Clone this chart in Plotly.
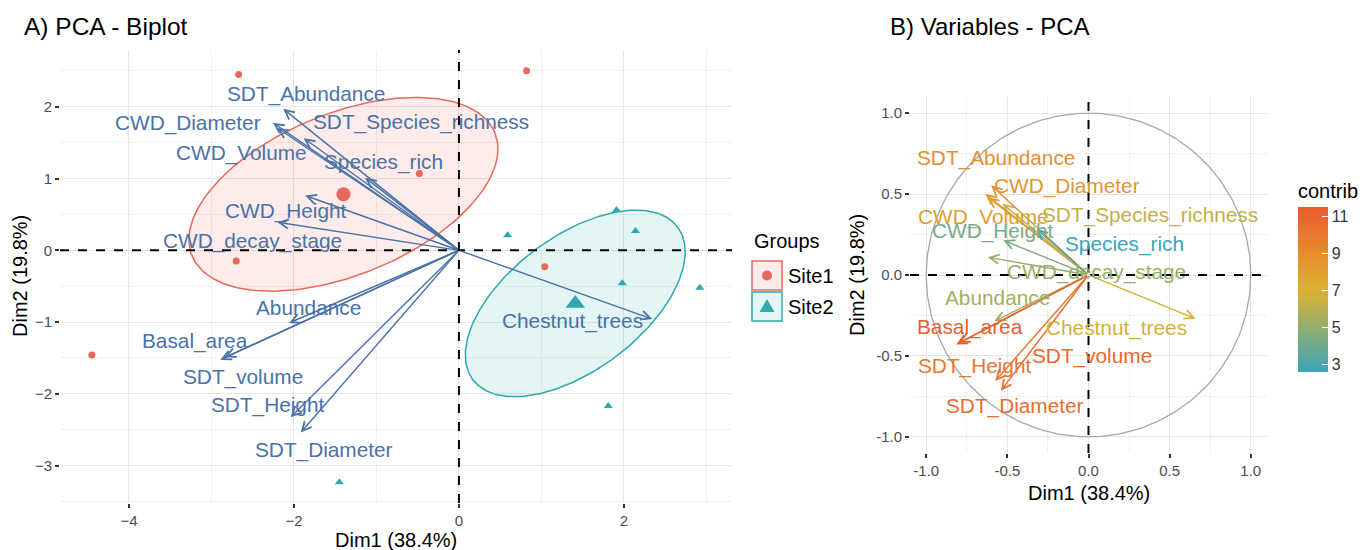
import numpy as np
import plotly.graph_objects as go
from plotly.colors import sample_colorscale

# ---------------- data ----------------
groups = ["Site1", "Site2"]
site1_x = [-2.67, 0.82, -0.48, -2.70, 1.04, -4.45]
site1_y = [2.45, 2.50, 1.07, -0.15, -0.23, -1.46]
site2_x = [0.59, 1.91, 2.14, 1.98, 2.92, 1.81, -1.45]
site2_y = [0.21, 0.56, 0.27, -0.46, -0.52, -2.17, -3.23]
centroid_x = [-1.40, 1.41]
centroid_y = [0.78, -0.74]
ellipse_a = [2.03, 1.64]
ellipse_b = [1.10, 0.88]
ellipse_angle = [27.3, 43.7]

variables = ["SDT_Abundance", "CWD_Diameter", "CWD_Volume", "SDT_Species_richness",
             "Species_rich", "CWD_Height", "CWD_decay_stage", "Abundance",
             "Basal_area", "SDT_volume", "SDT_Height", "SDT_Diameter", "Chestnut_trees"]
var_dim1 = [-0.60, -0.635, -0.62, -0.53, -0.32, -0.525, -0.62, -0.58, -0.815, -0.80, -0.575, -0.54, 0.66]
var_dim2 = [0.555, 0.50, 0.48, 0.44, 0.285, 0.215, 0.11, -0.285, -0.43, -0.42, -0.655, -0.715, -0.27]
contrib = [8.8, 8.6, 8.1, 6.3, 2.6, 4.3, 5.2, 5.5, 11.5, 10.8, 10.0, 10.6, 6.7]
biplot_scale = 3.55
biplot_label_x = [-1.85, -3.29, -2.63, -0.46, -0.92, -2.10, -2.50, -1.82, -3.20, -2.62, -2.32, -1.64, 1.38]
biplot_label_y = [2.18, 1.78, 1.36, 1.79, 1.23, 0.55, 0.13, -0.80, -1.27, -1.77, -2.16, -2.78, -0.98]
var_label_x = [-0.57, -0.13, -0.65, 0.38, 0.22, -0.59, 0.05, -0.56, -0.73, 0.02, -0.70, -0.45, 0.17]
var_label_y = [0.72, 0.55, 0.36, 0.37, 0.19, 0.27, 0.02, -0.14, -0.32, -0.50, -0.56, -0.81, -0.33]

left_xticks = [-4, -2, 0, 2]
left_yticks = [-3, -2, -1, 0, 1, 2]
right_ticks = [-1.0, -0.5, 0.0, 0.5, 1.0]
contrib_ticks = [3, 5, 7, 9, 11]

# ---------------- styles ----------------
W, H = 1360, 550
FONT = "Liberation Sans, Arial, sans-serif"
COL1, COL2 = "#E66A5C", "#2FA9AD"
FILL1, FILL2 = "rgba(240,110,95,0.13)", "rgba(40,175,180,0.13)"
VARCOL = "#4A72A8"
GRID = "#E6E6E6"
GRIDMINOR = "#F1F1F1"
TICKCOL = "#4D4D4D"
CSCALE = [[0, "#3AA6B9"], [0.5, "#DDB32E"], [1, "#EE5A2F"]]
LABEL_SIZE = 20.8


def px(x):
    return x / W


def py(y):
    return 1 - y / H


fig = go.Figure()

# ellipses
t = np.linspace(0, 2 * np.pi, 240)
for i, (lc, fc) in enumerate([(COL1, FILL1), (COL2, FILL2)]):
    th = np.deg2rad(ellipse_angle[i])
    ex = centroid_x[i] + ellipse_a[i] * np.cos(t) * np.cos(th) - ellipse_b[i] * np.sin(t) * np.sin(th)
    ey = centroid_y[i] + ellipse_a[i] * np.cos(t) * np.sin(th) + ellipse_b[i] * np.sin(t) * np.cos(th)
    fig.add_trace(go.Scatter(x=ex, y=ey, mode="lines", fill="toself", fillcolor=fc,
                             line=dict(color=lc, width=1.5), hoverinfo="skip",
                             showlegend=False, xaxis="x", yaxis="y"))

# individuals
fig.add_trace(go.Scatter(x=site1_x, y=site1_y, mode="markers", showlegend=False,
                         marker=dict(symbol="circle", size=7, color=COL1), xaxis="x", yaxis="y"))
fig.add_trace(go.Scatter(x=site2_x, y=site2_y, mode="markers", showlegend=False,
                         marker=dict(symbol="triangle-up", size=8, color=COL2), xaxis="x", yaxis="y"))
fig.add_trace(go.Scatter(x=[centroid_x[0]], y=[centroid_y[0]], mode="markers", showlegend=False,
                         marker=dict(symbol="circle", size=14, color=COL1), xaxis="x", yaxis="y"))
fig.add_trace(go.Scatter(x=[centroid_x[1]], y=[centroid_y[1]], mode="markers", showlegend=False,
                         marker=dict(symbol="triangle-up", size=17, color=COL2), xaxis="x", yaxis="y"))

# correlation circle
theta = np.linspace(0, 2 * np.pi, 300)
fig.add_trace(go.Scatter(x=np.cos(theta), y=np.sin(theta), mode="lines", showlegend=False,
                         line=dict(color="#A8A8A8", width=1.3), hoverinfo="skip",
                         xaxis="x2", yaxis="y2"))

# colorbar carrier
cmin, cmax = min(contrib), max(contrib)
fig.add_trace(go.Scatter(
    x=var_dim1, y=var_dim2, mode="markers", showlegend=False, hoverinfo="skip",
    xaxis="x2", yaxis="y2",
    marker=dict(size=1, opacity=0, color=contrib, colorscale=CSCALE, cmin=cmin, cmax=cmax,
                showscale=True,
                colorbar=dict(
                    title=dict(text="contrib", side="top", font=dict(size=20, color="#000", family=FONT)),
                    x=px(1298), xanchor="left", y=py(276), yanchor="middle",
                    len=192 / H, lenmode="fraction", thickness=30, thicknessmode="pixels",
                    tickvals=contrib_ticks, ticks="inside", ticklen=6, tickcolor="white",
                    tickfont=dict(size=16, color="#333", family=FONT), outlinewidth=0,
                    xpad=0, ypad=0))))

var_colors = sample_colorscale(CSCALE, [(c - cmin) / (cmax - cmin) for c in contrib])

annotations = []
# biplot arrows
for i, v in enumerate(variables):
    annotations.append(dict(
        x=var_dim1[i] * biplot_scale, y=var_dim2[i] * biplot_scale, ax=0, ay=0,
        xref="x", yref="y", axref="x", ayref="y", showarrow=True, text="",
        arrowhead=5, arrowsize=1.3, arrowwidth=1.4, arrowcolor=VARCOL))
for i, v in enumerate(variables):
    annotations.append(dict(
        x=biplot_label_x[i], y=biplot_label_y[i], xref="x", yref="y", text=v, showarrow=False,
        font=dict(size=LABEL_SIZE, color=VARCOL, family=FONT), xanchor="center", yanchor="middle"))

# variable arrows
for i, v in enumerate(variables):
    annotations.append(dict(
        x=var_dim1[i], y=var_dim2[i], ax=0, ay=0,
        xref="x2", yref="y2", axref="x2", ayref="y2", showarrow=True, text="",
        arrowhead=5, arrowsize=1.3, arrowwidth=1.4, arrowcolor=var_colors[i]))
for i, v in enumerate(variables):
    annotations.append(dict(
        x=var_label_x[i], y=var_label_y[i], xref="x2", yref="y2", text=v, showarrow=False,
        font=dict(size=LABEL_SIZE, color=var_colors[i], family=FONT), xanchor="center", yanchor="middle"))

# titles
annotations += [
    dict(x=px(22), y=py(27), xref="paper", yref="paper", text="A) PCA - Biplot", showarrow=False,
         xanchor="left", yanchor="middle", font=dict(size=24.5, color="#000", family=FONT)),
    dict(x=px(888), y=py(27), xref="paper", yref="paper", text="B) Variables - PCA", showarrow=False,
         xanchor="left", yanchor="middle", font=dict(size=24, color="#000", family=FONT)),
    dict(x=px(396), y=py(540), xref="paper", yref="paper", text="Dim1 (38.4%)", showarrow=False,
         xanchor="center", yanchor="middle", font=dict(size=20, color="#000", family=FONT)),
    dict(x=px(1089), y=py(493), xref="paper", yref="paper", text="Dim1 (38.4%)", showarrow=False,
         xanchor="center", yanchor="middle", font=dict(size=20, color="#000", family=FONT)),
    dict(x=px(20), y=py(276), xref="paper", yref="paper", text="Dim2 (19.8%)", showarrow=False,
         textangle=-90, xanchor="center", yanchor="middle", font=dict(size=20, color="#000", family=FONT)),
    dict(x=px(857), y=py(275), xref="paper", yref="paper", text="Dim2 (19.8%)", showarrow=False,
         textangle=-90, xanchor="center", yanchor="middle", font=dict(size=20, color="#000", family=FONT)),
    # legend
    dict(x=px(752), y=py(241), xref="paper", yref="paper", text="Groups", showarrow=False,
         xanchor="left", yanchor="middle", font=dict(size=20, color="#000", family=FONT)),
    dict(x=px(786), y=py(276), xref="paper", yref="paper", text=groups[0], showarrow=False,
         xanchor="left", yanchor="middle", font=dict(size=20, color="#000", family=FONT)),
    dict(x=px(786), y=py(307), xref="paper", yref="paper", text=groups[1], showarrow=False,
         xanchor="left", yanchor="middle", font=dict(size=20, color="#000", family=FONT)),
]

shapes = [
    # reference dashed lines
    dict(type="line", xref="x", yref="y domain", x0=0, x1=0, y0=0, y1=1,
         line=dict(color="#000", width=2, dash="dash")),
    dict(type="line", xref="x domain", yref="y", x0=0, x1=1, y0=0, y1=0,
         line=dict(color="#000", width=2, dash="dash")),
    dict(type="line", xref="x2", yref="y2 domain", x0=0, x1=0, y0=0, y1=1,
         line=dict(color="#000", width=2, dash="dash")),
    dict(type="line", xref="x2 domain", yref="y2", x0=0, x1=1, y0=0, y1=0,
         line=dict(color="#000", width=2, dash="dash")),
    # legend keys
    dict(type="rect", xref="paper", yref="paper", x0=px(752), x1=px(782), y0=py(290), y1=py(261),
         fillcolor=FILL1, line=dict(color=COL1, width=1.5)),
    dict(type="rect", xref="paper", yref="paper", x0=px(752), x1=px(782), y0=py(321), y1=py(292),
         fillcolor=FILL2, line=dict(color=COL2, width=1.5)),
    dict(type="circle", xref="paper", yref="paper", x0=px(762), x1=px(772), y0=py(280.5), y1=py(270.5),
         fillcolor=COL1, line=dict(width=0)),
    dict(type="path", xref="paper", yref="paper",
         path=f"M {px(759.5)},{py(312)} L {px(774.5)},{py(312)} L {px(767)},{py(299)} Z",
         fillcolor=COL2, line=dict(width=0)),
]

axis_common = dict(showline=False, zeroline=False, ticks="outside", ticklen=4, tickwidth=1.5,
                   tickcolor="#333", tickfont=dict(size=15, color=TICKCOL, family=FONT),
                   gridcolor=GRID, gridwidth=1, automargin=False)

fig.update_layout(
    width=W, height=H, autosize=False,
    margin=dict(l=0, r=0, t=0, b=0, pad=0, autoexpand=False),
    paper_bgcolor="white", plot_bgcolor="white",
    font=dict(family=FONT),
    showlegend=False,
    xaxis=dict(domain=[px(60), px(732)], range=[-4.836, 3.31], tickvals=left_xticks,
               minor=dict(tickvals=[-3, -1, 1, 3], showgrid=True, gridcolor=GRIDMINOR, gridwidth=1),
               anchor="y", **axis_common),
    yaxis=dict(domain=[py(503), py(50)], range=[-3.52, 2.79], tickvals=left_yticks,
               minor=dict(tickvals=[-3.5, -2.5, -1.5, -0.5, 0.5, 1.5, 2.5], showgrid=True,
                          gridcolor=GRIDMINOR, gridwidth=1),
               anchor="x", **axis_common),
    xaxis2=dict(domain=[px(910), px(1267)], range=[-1.1, 1.1], tickvals=right_ticks,
                ticktext=["-1.0", "-0.5", "0.0", "0.5", "1.0"],
                minor=dict(tickvals=[-0.75, -0.25, 0.25, 0.75], showgrid=True, gridcolor=GRIDMINOR, gridwidth=1),
                anchor="y2", **axis_common),
    yaxis2=dict(domain=[py(453), py(97)], range=[-1.1, 1.1], tickvals=right_ticks,
                ticktext=["-1.0", "-0.5", "0.0", "0.5", "1.0"],
                minor=dict(tickvals=[-0.75, -0.25, 0.25, 0.75], showgrid=True, gridcolor=GRIDMINOR, gridwidth=1),
                anchor="x2", **axis_common),
    annotations=annotations,
    shapes=shapes,
)

fig.write_html("out.html", config={"displayModeBar": False},
               post_script="document.body.style.margin='0';document.body.style.overflow='hidden';")
